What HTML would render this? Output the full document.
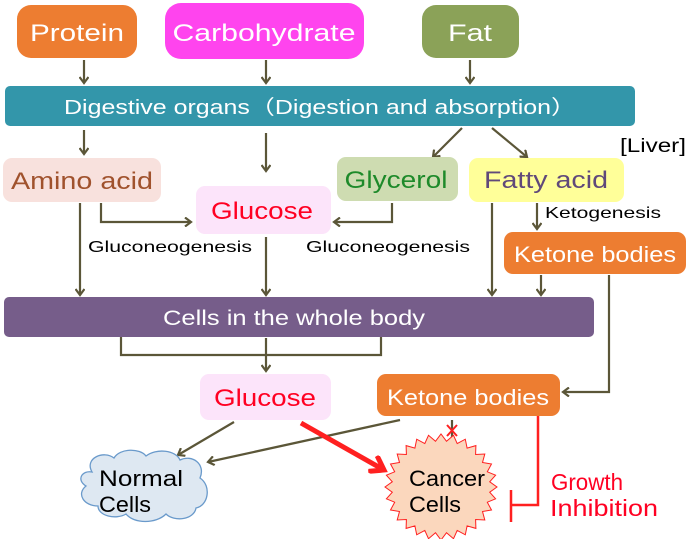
<!DOCTYPE html>
<html><head><meta charset="utf-8"><style>
html,body{margin:0;padding:0;background:#fff;}
svg{display:block;font-family:"Liberation Sans",sans-serif;}
</style></head><body>
<svg width="700" height="539" viewBox="0 0 700 539" xmlns="http://www.w3.org/2000/svg">
<defs>
<marker id="a" markerWidth="10" markerHeight="10" refX="7" refY="5" orient="auto" markerUnits="userSpaceOnUse"><path d="M1,0.5 L7,5 L1,9.5" fill="none" stroke="#5B5638" stroke-width="2.2"/></marker>
<marker id="r" markerWidth="20" markerHeight="20" refX="14" refY="10" orient="auto" markerUnits="userSpaceOnUse"><path d="M1,1 L14,10 L1,19" fill="none" stroke="#FF2020" stroke-width="5"/></marker>
</defs>
<g stroke="#5B5638" stroke-width="2.2" fill="none" marker-end="url(#a)">
<path d="M84,60 V83"/><path d="M266,60 V83"/><path d="M470,60 V83"/>
<path d="M84,130 V154"/><path d="M266,133 V171"/>
<path d="M462,128 L433,157"/><path d="M492,128 L527,157"/>
<path d="M101,203 V222 H191"/><path d="M392,203 V222 H334"/>
<path d="M80,203 V295"/><path d="M266,237 V295"/><path d="M492,203 V295"/>
<path d="M537,203 V229"/><path d="M541,275 V295"/>
<path d="M609,275 V392 H563"/>
<path d="M266,338 V371"/>
<path d="M234,422 L178,455"/><path d="M400,420 L208,462"/>
<path d="M452,420 V450"/>
</g>
<path d="M121,337 V355 H381 V337" fill="none" stroke="#5B5638" stroke-width="2.2"/>
<path d="M301,423 L384,470" stroke="#FF2020" stroke-width="5" fill="none" marker-end="url(#r)"/>
<path d="M447,425 L457,436 M457,425 L447,436" stroke="#FF2020" stroke-width="2"/>
<path d="M538,416 V505 H511 M511,490 V522" stroke="#FF2020" stroke-width="2.5" fill="none"/>

<rect x="17" y="5" width="120" height="53" rx="14" fill="#ED7D31"/>
<text x="77" y="41" font-size="24" fill="#fff" text-anchor="middle" textLength="94" lengthAdjust="spacingAndGlyphs">Protein</text>
<rect x="165" y="3" width="199" height="56" rx="16" fill="#FF44EE"/>
<text x="264" y="41" font-size="24" fill="#fff" text-anchor="middle" textLength="183" lengthAdjust="spacingAndGlyphs">Carbohydrate</text>
<rect x="422" y="5" width="97" height="53" rx="14" fill="#8BA258"/>
<text x="470" y="41" font-size="24" fill="#fff" text-anchor="middle" textLength="44" lengthAdjust="spacingAndGlyphs">Fat</text>

<rect x="5" y="86" width="630" height="40" rx="5" fill="#3396AA"/>
<text x="320" y="114" font-size="20" fill="#fff" text-anchor="middle" textLength="512" lengthAdjust="spacingAndGlyphs">Digestive  organs（Digestion and absorption）</text>
<text x="620" y="152" font-size="19" fill="#000" textLength="66" lengthAdjust="spacingAndGlyphs">[Liver]</text>

<rect x="3" y="158" width="158" height="44" rx="9" fill="#F8E1DD"/>
<text x="82" y="189" font-size="24" fill="#A0522D" text-anchor="middle" textLength="142" lengthAdjust="spacingAndGlyphs">Amino acid</text>
<rect x="196" y="186" width="135" height="48" rx="9" fill="#FCE4FA"/>
<text x="262" y="219" font-size="24" fill="#FF0022" text-anchor="middle" textLength="102" lengthAdjust="spacingAndGlyphs">Glucose</text>
<rect x="337" y="157" width="121" height="44" rx="9" fill="#CEDCB1"/>
<text x="396" y="188" font-size="24" fill="#1E8A2A" text-anchor="middle" textLength="103" lengthAdjust="spacingAndGlyphs">Glycerol</text>
<rect x="469" y="158" width="155" height="44" rx="9" fill="#FFFF99"/>
<text x="546" y="188" font-size="24" fill="#60497A" text-anchor="middle" textLength="124" lengthAdjust="spacingAndGlyphs">Fatty acid</text>

<text x="88" y="252" font-size="16" fill="#000" textLength="164" lengthAdjust="spacingAndGlyphs">Gluconeogenesis</text>
<text x="306" y="252" font-size="16" fill="#000" textLength="164" lengthAdjust="spacingAndGlyphs">Gluconeogenesis</text>
<text x="545" y="218" font-size="16" fill="#000" textLength="116" lengthAdjust="spacingAndGlyphs">Ketogenesis</text>

<rect x="504" y="232" width="182" height="42" rx="9" fill="#ED7D31"/>
<text x="595" y="262" font-size="22" fill="#fff" text-anchor="middle" textLength="162" lengthAdjust="spacingAndGlyphs">Ketone bodies</text>

<rect x="4" y="297" width="590" height="40" rx="5" fill="#765D8A"/>
<text x="294" y="325" font-size="21" fill="#fff" text-anchor="middle" textLength="262" lengthAdjust="spacingAndGlyphs">Cells in the whole body</text>

<rect x="200" y="374" width="131" height="46" rx="9" fill="#FCE4FA"/>
<text x="265" y="406" font-size="24" fill="#FF0022" text-anchor="middle" textLength="102" lengthAdjust="spacingAndGlyphs">Glucose</text>
<rect x="377" y="374" width="183" height="42" rx="9" fill="#ED7D31"/>
<text x="468" y="405" font-size="22" fill="#fff" text-anchor="middle" textLength="162" lengthAdjust="spacingAndGlyphs">Ketone bodies</text>

<path d="M92,472 C84,458 104,450 114,458 C120,448 140,448 146,456 C156,448 176,450 180,460 C192,454 206,464 200,478 C212,486 208,506 196,508 C194,520 174,522 166,514 C156,524 134,524 126,514 C116,520 98,516 98,506 C84,506 76,494 86,486 C76,480 82,470 92,472 Z" fill="#DEE8F2" stroke="#6A9ACB" stroke-width="1.3"/>
<text x="99" y="486" font-size="22" fill="#000" textLength="84" lengthAdjust="spacingAndGlyphs">Normal</text>
<text x="99" y="512" font-size="22" fill="#000" textLength="52" lengthAdjust="spacingAndGlyphs">Cells</text>

<polygon id="star" fill="#FBD7BD" stroke="#FF2020" stroke-width="1"/>
<text x="409" y="486" font-size="22" fill="#000" textLength="76" lengthAdjust="spacingAndGlyphs">Cancer</text>
<text x="409" y="512" font-size="22" fill="#000" textLength="52" lengthAdjust="spacingAndGlyphs">Cells</text>

<text x="551" y="490" font-size="23" fill="#FF0022" textLength="72" lengthAdjust="spacingAndGlyphs">Growth</text>
<text x="550" y="516" font-size="23" fill="#FF0022" textLength="108" lengthAdjust="spacingAndGlyphs">Inhibition</text>
</svg>
<script>
(function(){var cx=441,cy=487,n=28,p=[];for(var i=0;i<n*2;i++){var a=Math.PI*i/n,rx=i%2?49:56,ry=i%2?46:53;p.push((cx+rx*Math.cos(a)).toFixed(1)+","+(cy+ry*Math.sin(a)).toFixed(1));}document.getElementById("star").setAttribute("points",p.join(" "));})();
</script>
</body></html>
